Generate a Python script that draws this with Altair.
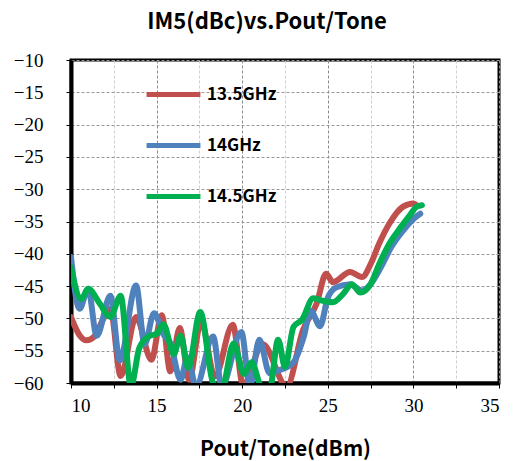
import altair as alt
import pandas as pd

# IM5 measurements versus output power per tone, three carrier frequencies
series_names = ["13.5GHz", "14GHz", "14.5GHz"]
series_colors = ["#C0504D", "#4F81BD", "#00B050"]

pout_135 = [10.0, 10.5, 10.9, 11.4, 11.9, 12.3, 12.9, 13.8, 14.7, 15.3, 15.8, 16.35,
            16.9, 17.6, 18.4, 19.45, 20.05, 21.2, 22.6, 23.55, 24.35, 24.9, 25.3,
            26.3, 27.0, 27.5, 28.0, 28.6, 29.4, 30.0, 30.2]
im5_135 = [-49.8, -52.6, -53.4, -52.7, -50.0, -48.5, -58.9, -49.8, -56.4, -49.5, -58.2, -51.5,
           -59.5, -50.5, -59.0, -51.0, -60.3, -54.0, -60.5, -51.8, -47.7, -43.1, -44.4,
           -42.8, -43.6, -41.6, -38.4, -35.3, -32.7, -32.2, -32.5]

pout_14 = [10.0, 10.5, 11.0, 11.5, 12.3, 12.85, 13.8, 14.3, 14.85, 15.4, 15.8, 16.4,
           16.8, 17.3, 18.3, 18.8, 19.95, 20.45, 21.0, 21.6, 22.2, 23.0, 23.6, 24.0,
           24.55, 25.0, 25.5, 26.3, 27.0, 27.5, 28.1, 28.7, 29.4, 30.0, 30.4]
im5_14 = [-40.5, -48.5, -45.4, -52.7, -46.5, -56.5, -44.9, -54.0, -49.2, -52.5, -53.8, -59.5,
          -56.0, -60.5, -52.8, -60.5, -52.1, -60.5, -53.3, -58.5, -58.0, -56.8, -52.8, -48.8,
          -51.2, -46.8, -45.2, -44.7, -45.7, -44.7, -42.1, -39.0, -36.4, -34.6, -33.8]

pout_145 = [10.0, 10.6, 11.0, 11.7, 12.3, 12.9, 13.5, 14.0, 14.6, 15.0, 15.4, 16.0,
            16.4, 16.85, 17.55, 18.3, 18.8, 19.5, 20.1, 20.55, 21.1, 21.6, 22.1, 22.5,
            23.0, 23.5, 24.15, 24.6, 25.3, 25.9, 26.4, 26.9, 27.5, 28.0, 28.6, 29.2,
            29.8, 30.2, 30.5]
im5_145 = [-42.1, -47.0, -45.4, -47.8, -49.8, -46.5, -60.5, -54.5, -52.7, -52.4, -50.9, -55.5,
           -52.7, -57.6, -49.0, -60.0, -61.0, -53.9, -58.6, -56.8, -60.5, -61.0, -53.3, -57.5,
           -51.3, -50.2, -46.9, -47.2, -47.5, -46.2, -44.7, -46.0, -44.7, -41.6, -38.4, -36.1,
           -34.0, -32.7, -32.5]

x_ticks = [10, 12.5, 15, 17.5, 20, 22.5, 25, 27.5, 30, 32.5, 35]
y_ticks = [-60, -55, -50, -45, -40, -35, -30, -25, -20, -15, -10]

frames = []
for name, xs, ys in zip(series_names,
                        [pout_135, pout_14, pout_145],
                        [im5_135, im5_14, im5_145]):
    frames.append(pd.DataFrame({"pout": xs, "im5": ys, "freq": name}))
df = pd.concat(frames, ignore_index=True)
df["order"] = range(len(df))

label_font = "Liberation Serif"
bold_font = "Noto Sans CJK SC"

chart = (
    alt.Chart(df)
    .mark_line(strokeWidth=6, interpolate="monotone", clip=True, strokeCap="round")
    .encode(
        x=alt.X(
            "pout:Q",
            scale=alt.Scale(domain=[10, 35], nice=False),
            axis=alt.Axis(
                title="Pout/Tone(dBm)",
                values=x_ticks,
                labelExpr="datum.value % 5 === 0 ? datum.label : ''",
                gridColor={"condition": {"test": "datum.value % 5 !== 0", "value": "#cfcfcf"},
                           "value": "#8a8a8a"},
                gridDash=[3, 2],
                gridWidth=1,
                tickSize=5,
                tickColor="black",
                labelPadding=8,
                labelFont=label_font,
                labelFontSize=19,
                labelColor="black",
                titleFont=bold_font,
                titleFontSize=21,
                titleFontWeight="bold",
                titlePadding=23,
                titleColor="black",
                domainColor="black",
                domainWidth=4,
            ),
        ),
        y=alt.Y(
            "im5:Q",
            scale=alt.Scale(domain=[-60, -10], nice=False),
            axis=alt.Axis(
                title=None,
                values=y_ticks,
                gridColor="#9a9a9a",
                gridDash=[3, 2],
                gridWidth=1,
                tickSize=5,
                tickColor="black",
                labelPadding=23,
                labelFont=label_font,
                labelFontSize=19,
                labelColor="black",
                domainColor="black",
                domainWidth=4,
            ),
        ),
        color=alt.Color(
            "freq:N",
            scale=alt.Scale(domain=series_names, range=series_colors),
            legend=alt.Legend(
                title=None,
                orient="none",
                legendX=73,
                legendY=5,
                symbolType="stroke",
                symbolSize=2900,
                symbolStrokeWidth=5,
                labelFont=bold_font,
                labelFontSize=17,
                labelFontWeight="bold",
                labelColor="black",
                labelOffset=4,
                rowPadding=11,
            ),
        ),
        order="order:Q",
    )
    .properties(
        width=428,
        height=323,
        autosize=alt.AutoSizeParams(type="none"),
        padding={"left": 71, "top": 60, "right": 14, "bottom": 78},
        title=alt.TitleParams(
            "IM5(dBc)vs.Pout/Tone",
            font=bold_font,
            fontSize=22,
            fontWeight="bold",
            color="black",
            anchor="middle",
            dx=-18,
            offset=17,
        ),
    )
    .configure_view(stroke="black", strokeWidth=3)
)

chart.save("out.html", embed_options={"renderer": "svg", "actions": False})
